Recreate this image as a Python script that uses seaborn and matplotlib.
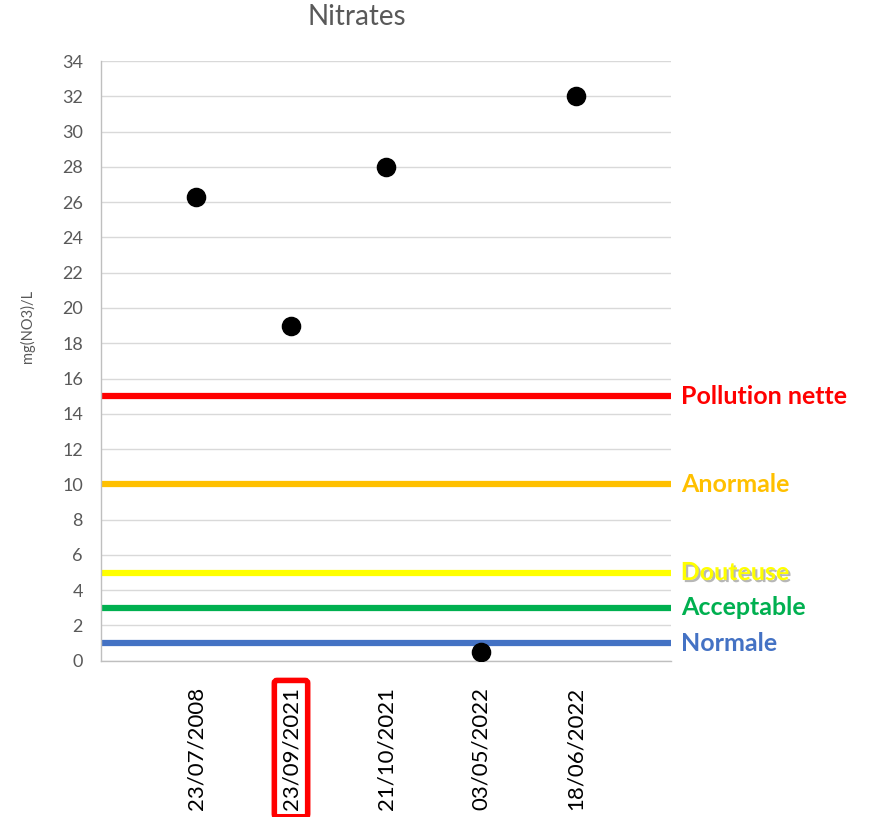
import matplotlib
matplotlib.use("Agg")
import matplotlib.pyplot as plt
import matplotlib.patheffects as pe
import seaborn as sns
import pandas as pd

dates = ["23/07/2008", "23/09/2021", "21/10/2021", "03/05/2022", "18/06/2022"]
nitrates = [26.3, 19.0, 28.0, 0.5, 32.0]
threshold_names = ["Pollution nette", "Anormale", "Douteuse", "Acceptable", "Normale"]
threshold_values = [15, 10, 5, 3, 1]
threshold_colors = ["#FF0000", "#FFC000", "#FFFF00", "#00B050", "#4472C4"]
highlighted = "23/09/2021"

sns.set_theme(style="white")
plt.rcParams['font.family'] = ['Lato', 'DejaVu Sans']

df = pd.DataFrame({"date": dates, "value": nitrates})

fig = plt.figure(figsize=(8.76, 8.17), dpi=100)
ax = fig.add_axes([0.1153, 0.1913, 0.6507, 0.734])

ax.set_ylim(0, 34)
ax.set_yticks(range(0, 35, 2))
ax.yaxis.grid(True, color="#d9d9d9", linewidth=1)
ax.set_axisbelow(True)

for name, val, col in zip(threshold_names, threshold_values, threshold_colors):
    ax.axhline(val, color=col, linewidth=4.5, zorder=2)
    t = ax.text(1.017, val, name, transform=ax.get_yaxis_transform(),
                color=col, fontsize=18, fontweight="bold", va="center", ha="left",
                family=["Lato", "DejaVu Sans"])
    if name == "Douteuse":
        t.set_path_effects([pe.withSimplePatchShadow(offset=(1.5, -1.5), shadow_rgbFace="#888888", alpha=0.6)])

sns.scatterplot(data=df, x="date", y="value", ax=ax, color="black", s=170,
                edgecolor="black", zorder=3, legend=False)
ax.set_xlim(-1, 5)

for s in ["top", "right"]:
    ax.spines[s].set_visible(False)
ax.spines["left"].set_color("#bfbfbf")
ax.spines["bottom"].set_color("#bfbfbf")
ax.spines["left"].set_linewidth(1)
ax.spines["bottom"].set_linewidth(1)

ax.tick_params(axis="y", colors="#595959", labelsize=13, length=0, pad=13)
ax.tick_params(axis="x", colors="black", labelsize=16, length=0, pad=19)
for lab in ax.get_xticklabels():
    lab.set_rotation(90)
    if lab.get_text() == highlighted:
        lab.set_bbox(dict(facecolor="none", edgecolor="#FF0000", linewidth=4,
                          boxstyle="round,pad=0.3,rounding_size=0.12"))

ax.set_xlabel("")
ax.set_ylabel("mg(NO3)/L", color="#595959", fontsize=10.5)
ax.yaxis.set_label_coords(-0.115, 0.558)
fig.text(357 / 876, 1 - 17 / 817, "Nitrates", color="#595959", fontsize=20,
         ha="center", va="center")

fig.savefig("out.png", dpi=100)
